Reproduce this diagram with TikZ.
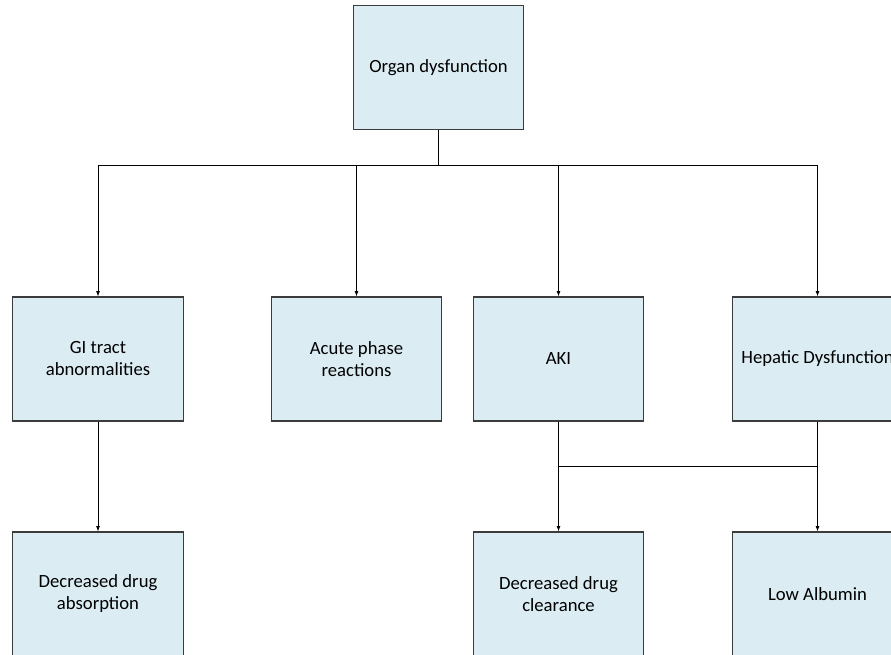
\documentclass[tikz,border=0pt]{standalone}
\usepackage{fontspec}
\setmainfont{Carlito}
\usepackage{tikz}
\usetikzlibrary{positioning,arrows.meta,calc}
\definecolor{boxblue}{RGB}{219,236,243}
\definecolor{boxline}{RGB}{60,60,60}
\tikzset{
  orgbox/.style={draw=boxline,line width=0.9pt,fill=boxblue,minimum width=128pt,minimum height=93pt,
    align=center,inner sep=2pt,font=\fontsize{14}{16.5}\selectfont},
  link/.style={draw=black,line width=0.6pt},
  arr/.style={-{Latex[length=4pt,width=3pt]}}
}
\begin{document}
\begin{tikzpicture}[x=0.75pt,y=0.75pt,yscale=-1,xscale=1]
        \useasboundingbox (0,0) rectangle (891,654); %set diagram to 891 x 654
        % Top box
        \node [orgbox] (organ) at (438.5,67.5) {Organ dysfunction};
        % Second row
        \node [orgbox] (gi) at (98,359) {GI tract\\abnormalities};
        \node [orgbox] (acute) at (356.5,359) {Acute phase\\reactions};
        \node [orgbox] (aki) at (558.5,359) {AKI};
        \node [orgbox] (hepatic) at (817.5,359) {Hepatic Dysfunction};
        % Third row
        \node [orgbox] (absorb) at (98,594) {Decreased drug\\absorption};
        \node [orgbox] (clear) at (558.5,594) {Decreased drug\\clearance};
        \node [orgbox] (albumin) at (817.5,594) {Low Albumin};
        % Bus lines
        \coordinate (bus) at (438.5,165);
        \coordinate (busL) at (98,165);
        \coordinate (busR) at (817.5,165);
        \coordinate (join) at (817.5,466);
        \draw [link,line width=1.2pt] (organ.south) -- (bus);
        \draw [link] (busL) -- (busR);
        \draw [link,arr] (busL) -- (gi.north);
        \draw [link,arr] (acute.north |- bus) -- (acute.north);
        \draw [link,arr] (aki.north |- bus) -- (aki.north);
        \draw [link,arr] (busR) -- (hepatic.north);
        % Lower links
        \draw [link,arr] (gi.south) -- (absorb.north);
        \draw [link,arr] (aki.south) -- (clear.north);
        \draw [link] (aki.south) -- (aki.south |- join) -- (join);
        \draw [link,arr] (hepatic.south) -- (albumin.north);
\end{tikzpicture}
\end{document}
